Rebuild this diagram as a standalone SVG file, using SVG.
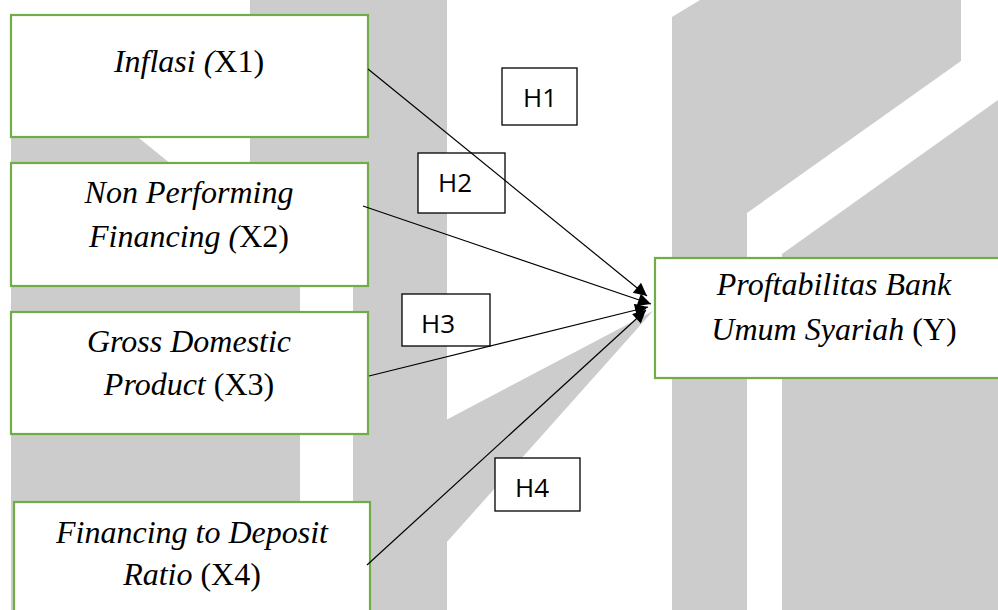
<svg xmlns="http://www.w3.org/2000/svg" width="998" height="610" viewBox="0 0 998 610">
<style>
.bg{fill:#cccccc;stroke:none}
.node{fill:#ffffff;stroke:#70ad47;stroke-width:2.2}
.hyp{fill:#ffffff;stroke:#000000;stroke-width:1.3}
.t{font-family:"Liberation Serif","Times New Roman",serif;font-size:32px;fill:#000;text-anchor:middle}
.i{font-style:italic}
.h{font-family:"Open Sans","Liberation Sans",sans-serif;font-size:26px;fill:#000;text-anchor:middle}
.conn{stroke:#000;stroke-width:1.2;fill:none;marker-end:url(#arrow)}
</style>
<defs>
<marker id="arrow" viewBox="0 0 10 10" refX="10" refY="5" markerWidth="16" markerHeight="13" markerUnits="userSpaceOnUse" orient="auto">
<path d="M0,0 L10,5 L0,10 z" fill="#000"/>
</marker>
</defs>
<rect width="998" height="610" fill="#ffffff"/>
<g id="background">
<polygon class="bg" points="250,0 447,0 447,610 353,610 353,250 300,250 300,610 11,610 11,100 92,100 250,228"/>
<polygon class="bg" points="446,420 653,311 446,543"/>
<polygon class="bg" points="672,17 700,0 961,0 961,61 747,213 747,610 672,610"/>
<polygon class="bg" points="782,254 998,100 998,610 782,610"/>
</g>
<g id="node-x1">
<rect class="node" x="11" y="15" width="357" height="122"/>
<text class="t" x="189" y="72"><tspan class="i">Inflasi (</tspan>X1)</text>
</g>
<g id="node-x2">
<rect class="node" x="11" y="163" width="357" height="123"/>
<text class="t i" x="189" y="203">Non Performing</text>
<text class="t" x="189" y="247"><tspan class="i">Financing (</tspan>X2)</text>
</g>
<g id="node-x3">
<rect class="node" x="11" y="312" width="357" height="122"/>
<text class="t i" x="189" y="352">Gross Domestic</text>
<text class="t" x="189" y="395"><tspan class="i">Product</tspan> (X3)</text>
</g>
<g id="node-x4">
<rect class="node" x="14" y="502" width="356" height="130"/>
<text class="t i" x="192" y="543">Financing to Deposit</text>
<text class="t" x="192" y="585"><tspan class="i">Ratio</tspan> (X4)</text>
</g>
<g id="node-y">
<rect class="node" x="655" y="258" width="360" height="120"/>
<text class="t i" x="834" y="295">Proftabilitas Bank</text>
<text class="t" x="834" y="340"><tspan class="i">Umum Syariah</tspan> (Y)</text>
</g>
<g id="label-h1">
<rect class="hyp" x="502" y="68" width="75" height="57"/>
<text class="h" x="540" y="107">H1</text>
</g>
<g id="label-h2">
<rect class="hyp" x="418" y="153" width="87" height="60"/>
<text class="h" x="455" y="192">H2</text>
</g>
<g id="label-h3">
<rect class="hyp" x="402" y="294" width="88" height="52"/>
<text class="h" x="438" y="333">H3</text>
</g>
<g id="label-h4">
<rect class="hyp" x="495" y="458" width="85" height="53"/>
<text class="h" x="532" y="497">H4</text>
</g>
<g id="connectors">
<line class="conn" x1="368" y1="69" x2="647" y2="296"/>
<line class="conn" x1="363" y1="206" x2="651" y2="304"/>
<line class="conn" x1="369" y1="376" x2="648" y2="307"/>
<line class="conn" x1="367" y1="565" x2="646" y2="310"/>
</g>
</svg>
